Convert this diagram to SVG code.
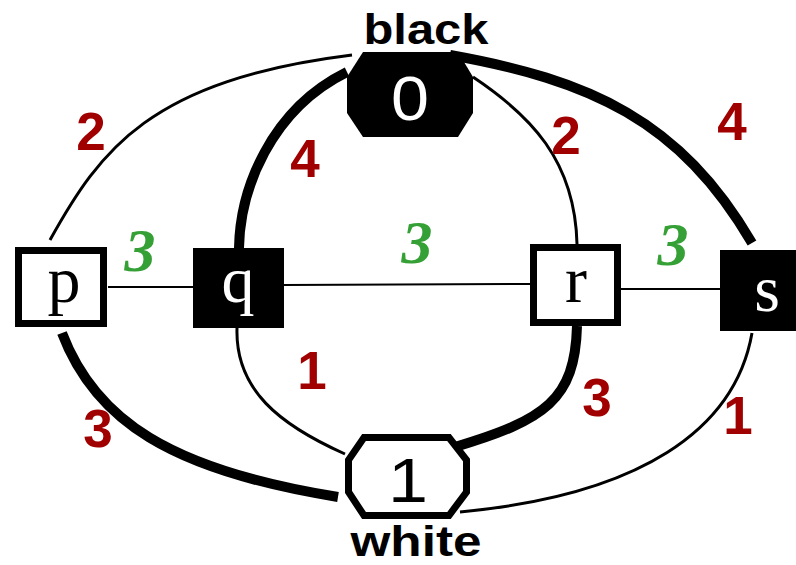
<svg xmlns="http://www.w3.org/2000/svg" width="796" height="565" viewBox="0 0 796 565">
  <style>
    .edge { fill: none; stroke: #000; stroke-linecap: butt; }
    .thin { stroke-width: 3; }
    .hair { stroke-width: 2; }
    .thick { stroke-width: 10; }
    .wt { font-family: "Liberation Sans Bold", "Liberation Sans", Arial, sans-serif; font-weight: bold; font-size: 53px; fill: #a00000; text-anchor: middle; }
    .len { font-family: "Liberation Serif", "Times New Roman", serif; font-weight: bold; font-style: italic; font-size: 62px; fill: #35a035; text-anchor: middle; }
    .var { font-family: "Liberation Serif", "Times New Roman", serif; font-size: 66px; text-anchor: middle; }
    .term { font-family: "Liberation Sans", Arial, sans-serif; font-size: 63px; text-anchor: middle; }
    .cap { font-family: "Liberation Sans", Arial, sans-serif; font-weight: bold; font-size: 43px; fill: #000; text-anchor: middle; }
  </style>
  <rect width="796" height="565" fill="#fff"/>

  <!-- connectors -->
  <g id="edges">
    <line class="edge hair" x1="108" y1="287" x2="193" y2="287"/>
    <line class="edge hair" x1="284" y1="285" x2="530" y2="284"/>
    <line class="edge hair" x1="621" y1="289" x2="720" y2="289"/>
    <path class="edge thin" d="M50 240 C100 150 150 80 352 55"/>
    <path class="edge thick" d="M239 248 C240 190 270 110 347 72"/>
    <path class="edge thin" d="M473 77 C530 115 575 160 577 244"/>
    <path class="edge thick" d="M450 55 C590 80 680 120 752 243"/>
    <path class="edge thick" d="M62 333 C95 420 170 470 338 497"/>
    <path class="edge thin" d="M237 328 C235 390 280 425 345 454"/>
    <path class="edge thick" d="M577 326 C575 400 545 420 455 447"/>
    <path class="edge thin" d="M752 333 C735 430 640 495 460 512"/>
  </g>

  <!-- edge weights -->
  <g id="weights">
    <text class="wt" x="91" y="150">2</text>
    <text class="wt" x="305" y="177">4</text>
    <text class="wt" x="566" y="154">2</text>
    <text class="wt" x="732" y="140">4</text>
    <text class="wt" x="312" y="389">1</text>
    <text class="wt" x="597" y="416">3</text>
    <text class="wt" x="98" y="447">3</text>
    <text class="wt" x="738" y="434">1</text>
    <text class="len" x="140" y="271">3</text>
    <text class="len" x="417" y="263">3</text>
    <text class="len" x="673" y="265">3</text>
  </g>

  <!-- terminal 0 -->
  <g id="node-0">
    <polygon points="363,52 458,52 473,77 473,113 458,137 363,137 347,113 347,77" fill="#000"/>
    <text class="term" x="410" y="120" fill="#fff" textLength="38" lengthAdjust="spacingAndGlyphs">0</text>
    <text class="cap" x="426" y="44" textLength="125" lengthAdjust="spacingAndGlyphs">black</text>
  </g>

  <!-- terminal 1 -->
  <g id="node-1">
    <polygon points="364,437.5 449,437.5 466.5,460 466.5,492 449,515.5 364,515.5 348.5,492 348.5,460" fill="#fff" stroke="#000" stroke-width="7"/>
    <text class="term" x="408" y="502" fill="#000" textLength="40" lengthAdjust="spacingAndGlyphs">1</text>
    <text class="cap" x="416" y="556" textLength="131" lengthAdjust="spacingAndGlyphs">white</text>
  </g>

  <!-- variable nodes -->
  <g id="node-p">
    <rect x="18.5" y="250.5" width="85" height="73" fill="#fff" stroke="#000" stroke-width="7"/>
    <text class="var" x="64" y="302" fill="#000">p</text>
  </g>
  <g id="node-q">
    <rect x="193" y="248" width="91" height="80" fill="#000"/>
    <text class="var" x="238" y="302" fill="#fff">q</text>
  </g>
  <g id="node-r">
    <rect x="533.5" y="247.5" width="84" height="75" fill="#fff" stroke="#000" stroke-width="7"/>
    <text class="var" x="576" y="302" fill="#000">r</text>
  </g>
  <g id="node-s">
    <rect x="720" y="250" width="92" height="81" fill="#000"/>
    <text class="var" x="767" y="311" fill="#fff">s</text>
  </g>
</svg>
